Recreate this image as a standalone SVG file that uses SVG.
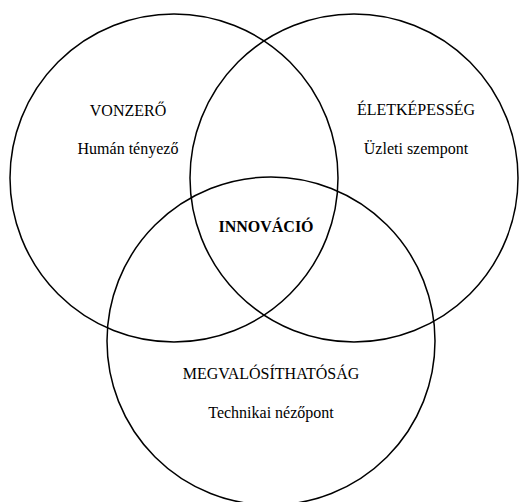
<svg xmlns="http://www.w3.org/2000/svg" width="519" height="502" viewBox="0 0 519 502">
<style>
.c{fill:none;stroke:#000;stroke-width:1.5}
.t{font-family:"Liberation Serif","Times New Roman",serif;font-size:16px;fill:#000;text-anchor:middle}
.b{font-weight:bold}
</style>
<rect width="519" height="502" fill="#fff"/>
<g id="vonzero">
<circle class="c" cx="174" cy="178" r="164"/>
<text class="t" x="128" y="116">VONZERŐ</text>
<text class="t" x="128" y="154">Humán tényező</text>
</g>
<g id="eletkepesseg">
<circle class="c" cx="354" cy="178" r="164"/>
<text class="t" x="416" y="115">ÉLETKÉPESSÉG</text>
<text class="t" x="416" y="154">Üzleti szempont</text>
</g>
<g id="megvalosithatosag">
<circle class="c" cx="271" cy="341" r="164"/>
<text class="t" x="271" y="379">MEGVALÓSÍTHATÓSÁG</text>
<text class="t" x="271" y="418">Technikai nézőpont</text>
</g>
<g id="innovacio">
<text class="t b" x="266" y="232">INNOVÁCIÓ</text>
</g>
<g id="connectors"></g>
</svg>
